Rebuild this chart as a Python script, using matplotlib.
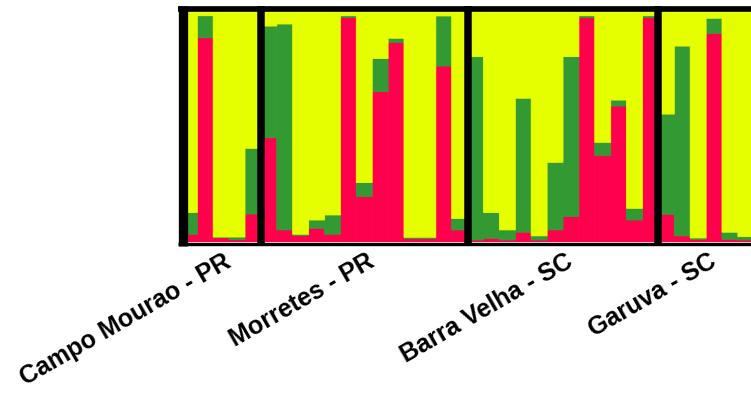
import matplotlib
matplotlib.use("Agg")
import matplotlib.pyplot as plt
import matplotlib.transforms as mtransforms
import numpy as np

# Population groups (number of individuals per group)
populations = ["Campo Mourao - PR", "Morretes - PR", "Barra Velha - SC", "Garuva - SC"]
group_sizes = [5, 13, 12, 6]

# Membership coefficients per individual (cluster red, cluster green; yellow = remainder)
red = [0.035, 0.89, 0.02, 0.012, 0.123,
       0.455, 0.054, 0.03, 0.061, 0.035, 0.979, 0.199, 0.656, 0.870, 0.016, 0.016, 0.767, 0.054,
       0.01, 0.017, 0.01, 0.044, 0.01, 0.054, 0.112, 0.978, 0.377, 0.593, 0.097, 0.978,
       0.122, 0.028, 0.013, 0.909, 0.013, 0.01]
green = [0.095, 0.096, 0.003, 0.011, 0.286,
         0.486, 0.896, 0.005, 0.036, 0.084, 0.007, 0.061, 0.144, 0.018, 0.006, 0.006, 0.218, 0.050,
         0.798, 0.113, 0.044, 0.583, 0.018, 0.294, 0.696, 0.008, 0.058, 0.026, 0.051, 0.008,
         0.436, 0.826, 0.006, 0.066, 0.031, 0.015]

red = np.array(red)
green = np.array(green)
yellow = 1.0 - red - green

C_RED = "#FF004D"
C_GREEN = "#339933"
C_YELLOW = "#E6FF00"

fig = plt.figure(figsize=(7.51, 3.94), dpi=100)
W, H = 751, 394
ax_left, ax_right = 181.4, 753.8
ax_top, ax_bottom = 12.5, 242.3
ax = fig.add_axes([ax_left / W, (H - ax_bottom) / H,
                   (ax_right - ax_left) / W, (ax_bottom - ax_top) / H])

n = len(red)
x = np.arange(n)
for vals, base, col in ((red, 0, C_RED), (green, red, C_GREEN), (yellow, red + green, C_YELLOW)):
    bars = ax.bar(x, vals, bottom=base, width=1.0, align="edge", color=col,
                  edgecolor=col, linewidth=0.6)
    for b in bars:
        b.set_snap(False)

ax.set_xlim(0, n)
ax.set_ylim(0, 1)
ax.set_yticks([])
for s in ax.spines.values():
    s.set_visible(False)

# Frame and group separators
bounds = np.cumsum([0] + group_sizes)
trans = mtransforms.blended_transform_factory(ax.transData, ax.transAxes)
y_lo, y_hi = -0.0148, 1.028
# left border
ax.plot([bounds[0], bounds[0]], [y_lo, y_hi], color="black", lw=6.7,
        solid_capstyle="butt", clip_on=False,
        transform=trans + mtransforms.ScaledTranslation(1.2 / 100, 0, fig.dpi_scale_trans))
for b in bounds[1:-1]:
    ax.plot([b, b], [y_lo, y_hi], color="black", lw=5.4, solid_capstyle="butt",
            clip_on=False, transform=trans)
# top and bottom borders
ax.plot([-0.006, 1.01], [1.0159, 1.0159], color="black", lw=4.1,
        solid_capstyle="butt", clip_on=False, transform=ax.transAxes)
ax.plot([-0.006, 1.01], [-0.0074, -0.0074], color="black", lw=2.45,
        solid_capstyle="butt", clip_on=False, transform=ax.transAxes)

# Group labels
centers = (bounds[:-1] + bounds[1:]) / 2.0
ax.set_xticks(centers)
ax.set_xticklabels(populations, rotation=30, ha="right", rotation_mode="anchor",
                   fontsize=18, fontweight="bold", family="Liberation Sans")
ax.tick_params(axis="x", length=0, pad=5)
offset = mtransforms.ScaledTranslation(2 / 100, 0, fig.dpi_scale_trans)
for lab in ax.get_xticklabels():
    lab.set_transform(lab.get_transform() + offset)

fig.savefig("out.png", dpi=100)
